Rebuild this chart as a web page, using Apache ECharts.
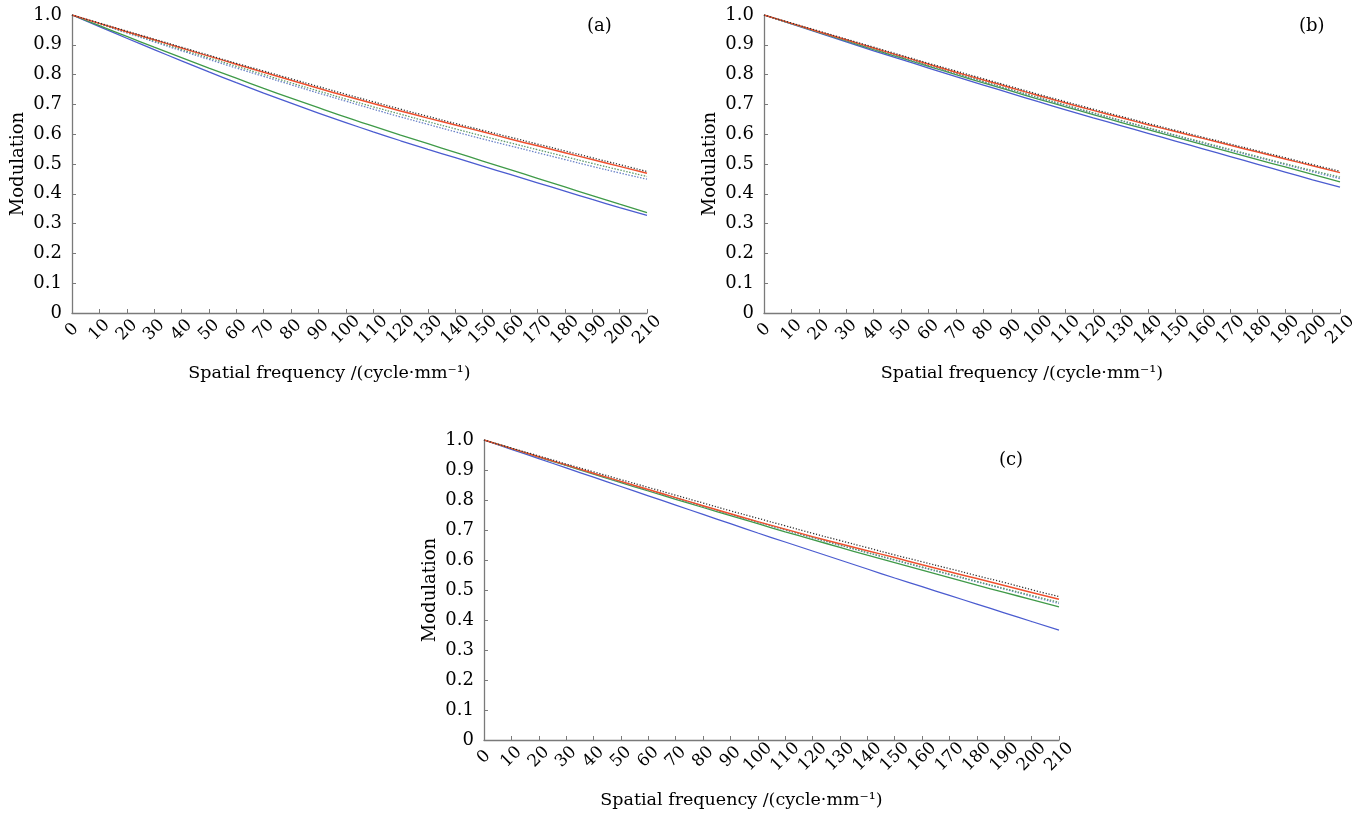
<!DOCTYPE html>
<html>
<head>
<meta charset="utf-8">
<script src="https://cdn.jsdelivr.net/npm/echarts@6/dist/echarts.min.js"></script>
<style>
  html, body { margin: 0; padding: 0; background: #fff; }
  #main { width: 1360px; height: 814px; }
</style>
</head>
<body>
<div id="main"></div>
<script>
// spatial frequency, cycle/mm
var freq = [0, 10, 20, 30, 40, 50, 60, 70, 80, 90, 100, 110, 120, 130, 140, 150, 160, 170, 180, 190, 200, 210];

// panel (a)
var aBlueSolid  = [1.000,0.961,0.922,0.884,0.846,0.809,0.773,0.738,0.704,0.671,0.639,0.608,0.578,0.549,0.521,0.493,0.465,0.437,0.409,0.381,0.354,0.328];
var aGreenSolid = [1.000,0.964,0.928,0.892,0.857,0.822,0.788,0.754,0.721,0.689,0.657,0.627,0.597,0.568,0.539,0.510,0.481,0.452,0.423,0.394,0.365,0.337];
var aBlueDot    = [1.000,0.970,0.940,0.910,0.880,0.851,0.822,0.794,0.766,0.738,0.711,0.684,0.658,0.633,0.608,0.584,0.561,0.538,0.515,0.492,0.470,0.449];
var aGreenDot   = [1.000,0.971,0.942,0.913,0.884,0.856,0.828,0.800,0.772,0.745,0.718,0.692,0.667,0.642,0.618,0.594,0.571,0.548,0.525,0.502,0.480,0.458];
var aRed        = [1.000,0.972,0.944,0.917,0.889,0.862,0.835,0.808,0.781,0.754,0.728,0.703,0.678,0.654,0.631,0.608,0.584,0.561,0.538,0.515,0.492,0.469];
var aBlackDot   = [1.000,0.973,0.946,0.919,0.892,0.865,0.838,0.812,0.786,0.760,0.734,0.709,0.684,0.660,0.636,0.613,0.590,0.567,0.544,0.521,0.498,0.475];

// panel (b)
var bBlueSolid  = [1.000,0.970,0.940,0.910,0.880,0.851,0.822,0.793,0.765,0.737,0.709,0.682,0.655,0.629,0.603,0.577,0.551,0.525,0.499,0.473,0.447,0.422];
var bGreenSolid = [1.000,0.971,0.942,0.913,0.884,0.856,0.828,0.800,0.772,0.745,0.718,0.692,0.666,0.640,0.615,0.590,0.565,0.540,0.515,0.490,0.465,0.440];
var bBlueDot    = [1.000,0.971,0.942,0.914,0.886,0.858,0.830,0.803,0.776,0.749,0.722,0.696,0.670,0.645,0.620,0.595,0.570,0.546,0.522,0.498,0.474,0.451];
var bGreenDot   = [1.000,0.971,0.943,0.915,0.887,0.859,0.831,0.804,0.777,0.750,0.724,0.698,0.672,0.647,0.622,0.597,0.573,0.549,0.525,0.501,0.478,0.456];
var bRed        = [1.000,0.972,0.944,0.917,0.889,0.862,0.835,0.808,0.782,0.756,0.730,0.705,0.680,0.656,0.632,0.609,0.586,0.563,0.540,0.517,0.494,0.471];
var bBlackDot   = [1.000,0.973,0.946,0.919,0.892,0.865,0.838,0.812,0.786,0.760,0.734,0.709,0.684,0.660,0.636,0.613,0.590,0.567,0.544,0.521,0.498,0.476];

// panel (c)
var cBlueSolid  = [1.000,0.969,0.938,0.907,0.876,0.845,0.814,0.783,0.752,0.721,0.690,0.660,0.630,0.600,0.570,0.540,0.511,0.482,0.453,0.424,0.395,0.366];
var cGreenSolid = [1.000,0.972,0.943,0.915,0.886,0.858,0.830,0.802,0.775,0.748,0.721,0.694,0.668,0.642,0.616,0.591,0.566,0.541,0.516,0.492,0.468,0.444];
var cBlueDot    = [1.000,0.972,0.944,0.916,0.888,0.860,0.833,0.806,0.779,0.752,0.726,0.700,0.674,0.649,0.624,0.599,0.575,0.551,0.527,0.503,0.479,0.455];
var cGreenDot   = [1.000,0.972,0.944,0.916,0.888,0.861,0.834,0.807,0.780,0.753,0.727,0.701,0.675,0.650,0.625,0.601,0.577,0.553,0.529,0.505,0.482,0.459];
var cRed        = [1.000,0.972,0.944,0.917,0.889,0.862,0.835,0.808,0.781,0.754,0.728,0.703,0.678,0.654,0.631,0.608,0.584,0.561,0.538,0.515,0.492,0.469];
var cBlackDot   = [1.000,0.973,0.947,0.920,0.894,0.868,0.842,0.816,0.790,0.764,0.739,0.714,0.689,0.665,0.641,0.617,0.594,0.571,0.548,0.525,0.501,0.478];

var panels = [
    { label: '(a)', grid: { left: 72, top: 15, width: 575, height: 298 }, labelPos: [587, 17],
      lines: [aBlueSolid, aGreenSolid, aBlueDot, aGreenDot, aRed, aBlackDot] },
    { label: '(b)', grid: { left: 764, top: 15, width: 576, height: 298 }, labelPos: [1299, 17],
      lines: [bBlueSolid, bGreenSolid, bBlueDot, bGreenDot, bRed, bBlackDot] },
    { label: '(c)', grid: { left: 484, top: 440, width: 575, height: 300 }, labelPos: [999, 451],
      lines: [cBlueSolid, cGreenSolid, cBlueDot, cGreenDot, cRed, cBlackDot] }
];

var lineStyles = [
    { color: '#4b5cd0', type: 'solid', width: 1.3 },
    { color: '#3f9a48', type: 'solid', width: 1.3 },
    { color: '#6a82c8', type: [1.5, 1.5], width: 1.3 },
    { color: '#5f9a6a', type: [1.5, 1.5], width: 1.3 },
    { color: '#f0502e', type: 'solid', width: 1.5 },
    { color: '#333333', type: [1.2, 1.8], width: 1.3 }
];

var serif = 'DejaVu Serif';
var axisGray = '#7a7a7a';

var grids = [], xAxes = [], yAxes = [], series = [], graphics = [];

panels.forEach(function (p, i) {
    grids.push(p.grid);
    xAxes.push({
        type: 'value', gridIndex: i, min: 0, max: 210, interval: 10,
        name: 'Spatial frequency /(cycle\u00b7mm\u207b\u00b9)',
        nameLocation: 'middle', nameGap: 51,
        nameTextStyle: { fontFamily: serif, fontSize: 17.5, color: '#000', padding: [0, 60, 0, 0] },
        axisLine: { lineStyle: { color: axisGray, width: 1.3 } },
        axisTick: { inside: true, length: 4, lineStyle: { color: axisGray } },
        axisLabel: {
            rotate: 45, fontFamily: serif, fontSize: 17, color: '#000', margin: 17,
            align: 'center', verticalAlign: 'middle'
        },
        splitLine: { show: false }
    });
    yAxes.push({
        type: 'value', gridIndex: i, min: 0, max: 1, interval: 0.1,
        name: 'Modulation', nameLocation: 'middle', nameGap: 45,
        nameTextStyle: { fontFamily: serif, fontSize: 18, color: '#000' },
        axisLine: { show: true, lineStyle: { color: axisGray, width: 1.3 } },
        axisTick: { show: true, inside: true, length: 4, lineStyle: { color: axisGray } },
        axisLabel: {
            fontFamily: serif, fontSize: 18, color: '#000', margin: 10,
            formatter: function (v) { return v === 0 ? '0' : v.toFixed(1); }
        },
        splitLine: { show: false }
    });
    p.lines.forEach(function (vals, k) {
        series.push({
            type: 'line', xAxisIndex: i, yAxisIndex: i,
            data: freq.map(function (f, j) { return [f, vals[j]]; }),
            showSymbol: false, smooth: true, silent: true,
            lineStyle: lineStyles[k]
        });
    });
    graphics.push({
        type: 'text', left: p.labelPos[0], top: p.labelPos[1],
        style: { text: p.label, font: '18px "DejaVu Serif"', fill: '#000' }
    });
});

var myChart = echarts.init(document.getElementById('main'));
myChart.setOption({
    animation: false,
    backgroundColor: '#fff',
    grid: grids,
    xAxis: xAxes,
    yAxis: yAxes,
    series: series,
    graphic: graphics
});
</script>
</body>
</html>
